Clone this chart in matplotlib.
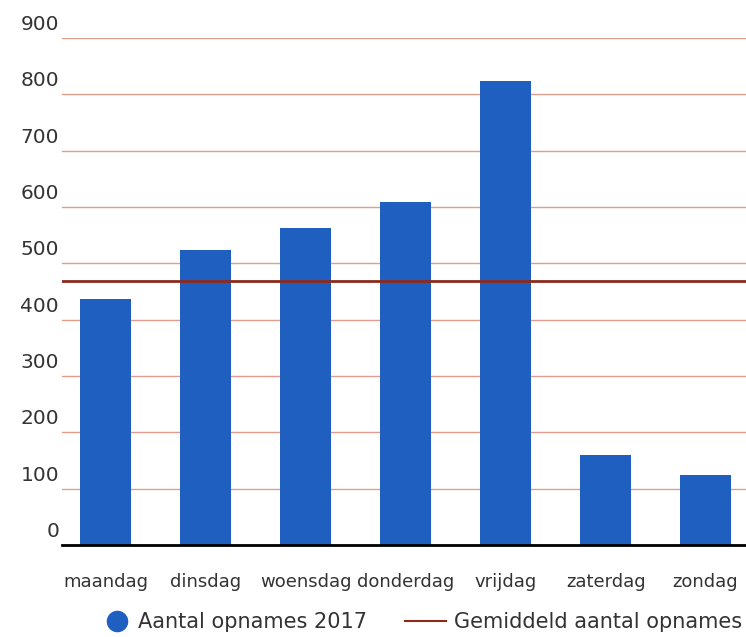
import matplotlib.pyplot as plt
import matplotlib.transforms as mtransforms
from matplotlib.lines import Line2D

# Data
days = ['maandag', 'dinsdag', 'woensdag', 'donderdag', 'vrijdag', 'zaterdag', 'zondag']
opnames_2017 = [437, 524, 563, 609, 824, 160, 124]
gemiddeld = 469
y_ticks = [0, 100, 200, 300, 400, 500, 600, 700, 800, 900]

BAR_COLOR = '#1f5fbf'
GRID_COLOR = '#e29c8c'
AVG_COLOR = '#8c2a1c'
TEXT_COLOR = '#333333'

W, H = 746, 637


def make_chart():
    fig = plt.figure(figsize=(W / 100, H / 100), dpi=100)
    ax = fig.add_axes([62 / W, 1 - 545 / H, 1 - 62 / W, (545 - 38) / H])

    x = range(len(days))
    ax.bar(x, opnames_2017, width=0.51, color=BAR_COLOR, zorder=3)
    ax.axhline(gemiddeld, color=AVG_COLOR, linewidth=2, zorder=4)

    ax.set_ylim(0, 900)
    ax.set_xlim(-0.44, 6.405)
    ax.set_yticks(y_ticks)
    ax.set_yticklabels([])
    ax.set_xticks(list(x))
    ax.set_xticklabels(days, fontsize=13, color=TEXT_COLOR)
    ax.tick_params(axis='both', length=0)
    ax.tick_params(axis='x', pad=20)

    # y labels sit above their gridline, like the original
    lab_trans = mtransforms.offset_copy(
        mtransforms.blended_transform_factory(ax.transAxes, ax.transData),
        fig=fig, x=-3, y=8, units='dots')
    for v in y_ticks:
        ax.text(0, v, str(v), transform=lab_trans, ha='right', va='baseline',
                fontsize=14.5, color=TEXT_COLOR, clip_on=False)

    ax.grid(axis='y', color=GRID_COLOR, linewidth=1, zorder=1)
    for side in ['top', 'right', 'left']:
        ax.spines[side].set_visible(False)
    ax.spines['bottom'].set_color('black')
    ax.spines['bottom'].set_linewidth(2)
    ax.spines['bottom'].set_zorder(5)

    # Legend, two parts so each handle keeps its own width
    dot = Line2D([], [], marker='o', linestyle='none', markersize=14.5,
                 markerfacecolor=BAR_COLOR, markeredgecolor=BAR_COLOR)
    avg = Line2D([], [], color=AVG_COLOR, linewidth=1.5)
    common = dict(loc='center left', frameon=False, fontsize=15,
                  borderpad=0, borderaxespad=0, labelcolor=TEXT_COLOR)
    fig.legend([dot], ['Aantal opnames 2017'], bbox_to_anchor=(107 / W, 1 - 622 / H),
               handlelength=1.0, handletextpad=0.5, **common)
    fig.legend([avg], ['Gemiddeld aantal opnames'], bbox_to_anchor=(405 / W, 1 - 622 / H),
               handlelength=1.95, handletextpad=0.4, **common)

    fig.savefig('out.png', dpi=100)


if __name__ == "__main__":
    make_chart()
